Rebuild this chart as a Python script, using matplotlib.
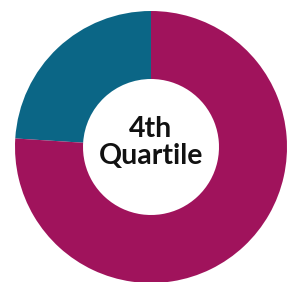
import matplotlib.pyplot as plt

# share of the ring: teal piece first, drawn counter-clockwise from 12 o'clock
labels = ["Other", "4th Quartile"]
values = [24, 76]
colors = ["#0b6686", "#a0135c"]
center_text = "4th\nQuartile"

fig = plt.figure(figsize=(2.93, 2.82), dpi=100)
ax = fig.add_axes([0, 0, 1, 1])

ax.pie(values, colors=colors, startangle=90, counterclock=True,
       radius=1, wedgeprops=dict(width=0.5, linewidth=0))

ax.text(0, 0.03, center_text, ha="center", va="center", fontsize=20.5,
        fontweight="bold", family=["Lato", "DejaVu Sans"], linespacing=1.05,
        color="#111111")

# map the unit circle to the pixel frame of the reference
ax.set_xlim(-151 / 136, (293 - 151) / 136)
ax.set_ylim(-(282 - 147) / 136, 147 / 136)
ax.set_aspect("auto")
ax.axis("off")

fig.savefig("out.png", dpi=100)
